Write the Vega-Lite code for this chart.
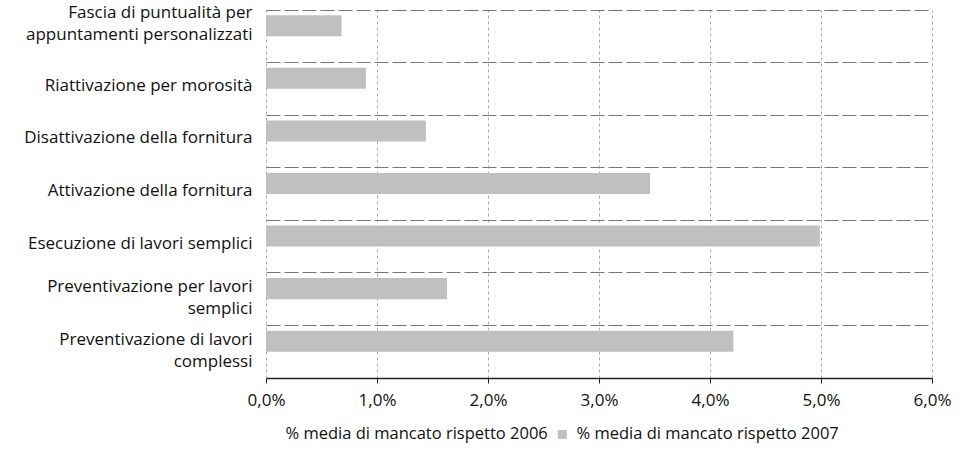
{
  "$schema": "https://vega.github.io/schema/vega-lite/v6.json",
  "autosize": {"type": "none"},
  "padding": {"left": 266, "top": 10, "right": 33, "bottom": 80},
  "width": 666,
  "height": 368,
  "background": "white",
  "data": {
    "values": [
      {"attivita": "Fascia di puntualità per appuntamenti personalizzati", "serie": "% media di mancato rispetto 2007", "valore": 0.68},
      {"attivita": "Riattivazione per morosità", "serie": "% media di mancato rispetto 2007", "valore": 0.90},
      {"attivita": "Disattivazione della fornitura", "serie": "% media di mancato rispetto 2007", "valore": 1.44},
      {"attivita": "Attivazione della fornitura", "serie": "% media di mancato rispetto 2007", "valore": 3.46},
      {"attivita": "Esecuzione di lavori semplici", "serie": "% media di mancato rispetto 2007", "valore": 4.99},
      {"attivita": "Preventivazione per lavori semplici", "serie": "% media di mancato rispetto 2007", "valore": 1.63},
      {"attivita": "Preventivazione di lavori complessi", "serie": "% media di mancato rispetto 2007", "valore": 4.21}
    ]
  },
  "mark": {"type": "bar", "cornerRadius": 0},
  "encoding": {
    "y": {
      "field": "attivita",
      "type": "nominal",
      "sort": null,
      "scale": {"paddingInner": 0, "paddingOuter": 0},
      "axis": {
        "title": null,
        "domain": false,
        "ticks": false,
        "grid": true,
        "bandPosition": 0,
        "gridColor": "#777777",
        "gridDash": [14, 4],
        "gridWidth": 1,
        "labelFont": "Open Sans",
        "labelFontSize": 17,
        "labelColor": "#111111",
        "labelPadding": 14,
        "labelLimit": 300,
        "labelLineHeight": 22,
        "labelOffset": {
          "condition": [
            {"test": "datum.label == 'Fascia di puntualità per appuntamenti personalizzati'", "value": -23},
            {"test": "datum.label == 'Preventivazione per lavori semplici' || datum.label == 'Preventivazione di lavori complessi'", "value": -12}
          ],
          "value": -3
        },
        "labelExpr": "datum.label == 'Fascia di puntualità per appuntamenti personalizzati' ? ['Fascia di puntualità per', 'appuntamenti personalizzati'] : datum.label == 'Preventivazione per lavori semplici' ? ['Preventivazione per lavori', 'semplici'] : datum.label == 'Preventivazione di lavori complessi' ? ['Preventivazione di lavori', 'complessi'] : datum.label"
      }
    },
    "yOffset": {
      "field": "serie",
      "type": "nominal",
      "scale": {
        "domain": ["% media di mancato rispetto 2007", "% media di mancato rispetto 2006"],
        "paddingInner": 0,
        "paddingOuter": 0.25
      }
    },
    "x": {
      "field": "valore",
      "type": "quantitative",
      "scale": {"domain": [0, 6], "nice": false},
      "axis": {
        "title": null,
        "values": [0, 1, 2, 3, 4, 5, 6],
        "labelExpr": "replace(format(datum.value, '.1f'), '.', ',') + '%'",
        "domain": true,
        "domainColor": "#222222",
        "domainWidth": 1.5,
        "ticks": true,
        "tickColor": "#222222",
        "tickSize": 5,
        "grid": true,
        "gridColor": "#a8a8a8",
        "gridDash": [3, 3],
        "gridWidth": 1,
        "labelFont": "Open Sans",
        "labelFontSize": 17,
        "labelColor": "#111111",
        "labelPadding": 9,
        "labelFlush": false
      }
    },
    "color": {
      "field": "serie",
      "type": "nominal",
      "scale": {
        "domain": ["% media di mancato rispetto 2006", "% media di mancato rispetto 2007"],
        "range": ["#ffffff", "#c0c0c0"]
      },
      "legend": {
        "title": null,
        "orient": "none",
        "direction": "horizontal",
        "legendX": -3,
        "legendY": 416,
        "symbolType": "square",
        "symbolSize": 81,
        "symbolStrokeWidth": 0,
        "labelFont": "Open Sans",
        "labelFontSize": 16.5,
        "labelColor": "#111111",
        "labelLimit": 400,
        "columnPadding": 6,
        "labelOffset": 6
      }
    }
  },
  "config": {
    "view": {"stroke": null}
  }
}
